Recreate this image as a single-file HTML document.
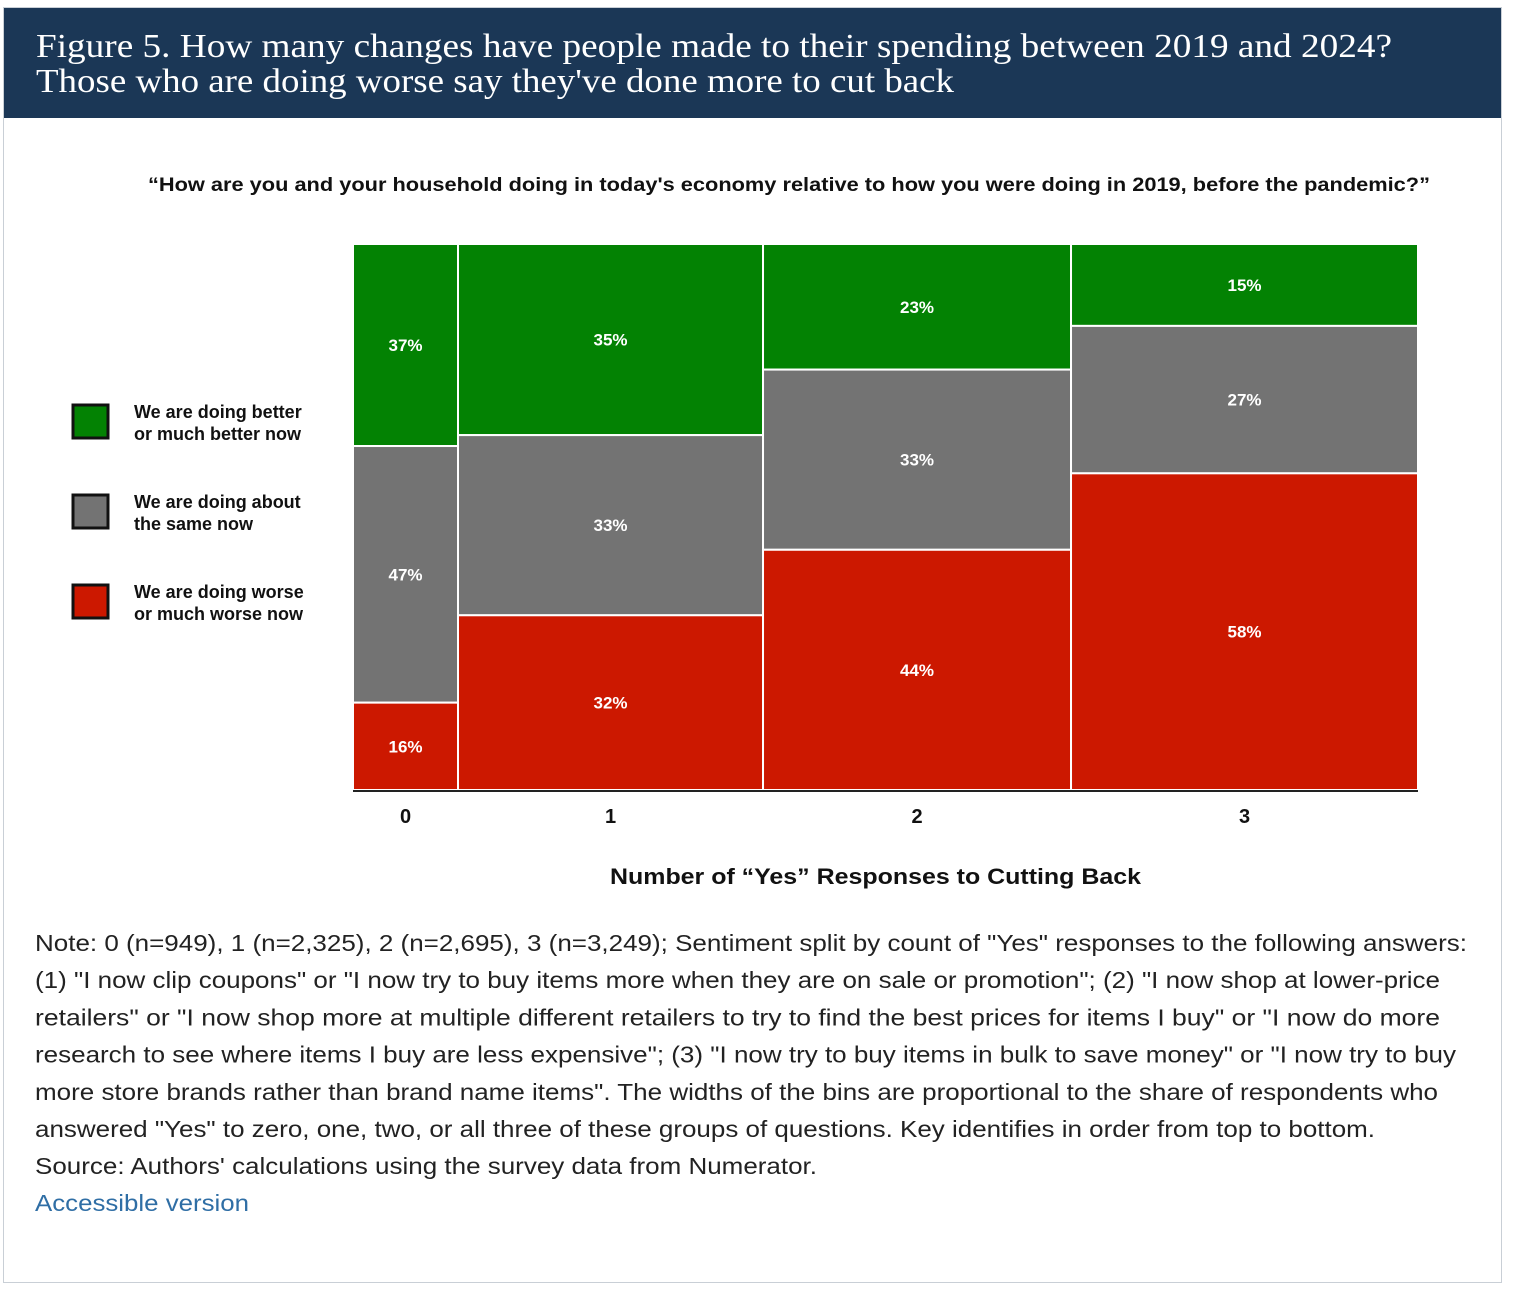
<!DOCTYPE html>
<html><head><meta charset="utf-8"><style>
body{margin:0;width:1514px;height:1294px;background:#fff;position:relative;overflow:hidden;font-family:"Liberation Sans",sans-serif}
#card{position:absolute;left:3px;top:7px;width:1497px;height:1274px;border:1px solid #c9cfd6}
#hdr{position:absolute;left:4px;top:8px;width:1497px;height:110px;background:#1b3756}
</style></head><body>
<div id="card"></div>
<div id="hdr"></div>
<svg id="chart" width="1514" height="1294" style="position:absolute;left:0;top:0"></svg>
<script>
const categories=["0","1","2","3"];
const binShares=[0.0986,0.2864,0.2892,0.3258];
const better=[37,35,23,15];
const same=[47,33,33,27];
const worse=[16,32,44,58];
const colors=["#038203","#737373","#cc1800"];
const NS="http://www.w3.org/2000/svg";
const svg=document.getElementById('chart');
const X0=353,X1=1418,Y0=244,Y1=790;
const xs=s=>X0+s*(X1-X0);
const ys=p=>Y0+p/100*(Y1-Y0);
function mk(t,a){const e=document.createElementNS(NS,t);for(const k in a)e.setAttribute(k,a[k]);svg.appendChild(e);return e;}
function txt(s,a,name,inter){const t=mk('text',a);t.textContent=s;return t;}
txt("Figure 5. How many changes have people made to their spending between 2019 and 2024?",{x:36,y:57,'font-family':'Liberation Serif, serif','font-size':34,fill:'#fff',textLength:1356,lengthAdjust:'spacingAndGlyphs'},'figure-title-line-1');
txt("Those who are doing worse say they've done more to cut back",{x:36,y:92,'font-family':'Liberation Serif, serif','font-size':34,fill:'#fff',textLength:918,lengthAdjust:'spacingAndGlyphs'},'figure-title-line-2');
txt("\u201cHow are you and your household doing in today's economy relative to how you were doing in 2019, before the pandemic?\u201d",{x:148,y:191,'font-size':19,'font-weight':'bold',fill:'#111',textLength:1282,lengthAdjust:'spacingAndGlyphs'},'chart-subtitle');
let cum=0;
const series=[better,same,worse];
const sn=['better','same','worse'];
categories.forEach((c,i)=>{
 const xa=xs(cum),xb=xs(cum+binShares[i]);cum+=binShares[i];
 let acc=0;
 series.forEach((s,j)=>{
  const ya=ys(acc),yb=ys(acc+s[i]);acc+=s[i];
  const r=mk('rect',{x:xa,y:ya,width:xb-xa,height:yb-ya,fill:colors[j],stroke:'#fff','stroke-width':2});
  
  
  txt(s[i]+'%',{x:(xa+xb)/2,y:(ya+yb)/2+6,'text-anchor':'middle','font-size':17,'font-weight':'bold',fill:'#fff'},'value-label-'+sn[j]+'-'+c);
 });
 txt(c,{x:(xa+xb)/2,y:823,'text-anchor':'middle','font-size':20,'font-weight':'bold',fill:'#111'},'x-tick-label-'+c);
});
const ax=mk('line',{x1:X0,y1:Y1+1,x2:X1,y2:Y1+1,stroke:'#222','stroke-width':2});


txt("Number of \u201cYes\u201d Responses to Cutting Back",{x:610,y:884,'font-size':22,'font-weight':'bold',fill:'#111',textLength:531,lengthAdjust:'spacingAndGlyphs'},'x-axis-title');
const legLines=[["We are doing better","or much better now"],["We are doing about","the same now"],["We are doing worse","or much worse now"]];
legLines.forEach((l,j)=>{
 const y=405+j*90;
 const b=mk('rect',{x:73,y:y,width:35,height:33,fill:colors[j],stroke:'#111','stroke-width':3});
 
 
 l.forEach((s,k)=>{
  txt(s,{x:134,y:y+13+k*22,'font-size':18,'font-weight':'bold',fill:'#111'},'legend-label-'+sn[j]);
 });
});
const noteLines=[
 ['Note: 0 (n=949), 1 (n=2,325), 2 (n=2,695), 3 (n=3,249); Sentiment split by count of "Yes" responses to the following answers:',1432],
 ['(1) "I now clip coupons" or "I now try to buy items more when they are on sale or promotion"; (2) "I now shop at lower-price',1405],
 ['retailers" or "I now shop more at multiple different retailers to try to find the best prices for items I buy" or "I now do more',1405],
 ['research to see where items I buy are less expensive"; (3) "I now try to buy items in bulk to save money" or "I now try to buy',1421],
 ['more store brands rather than brand name items". The widths of the bins are proportional to the share of respondents who',1403],
 ['answered "Yes" to zero, one, two, or all three of these groups of questions. Key identifies in order from top to bottom.',1340],
 ["Source: Authors' calculations using the survey data from Numerator.",782]
];
noteLines.forEach((l,k)=>{
 txt(l[0],{x:35,y:951+k*37.2,'font-size':23,fill:'#222',textLength:l[1],lengthAdjust:'spacingAndGlyphs'},'chart-note-line');
});
txt("Accessible version",{x:35,y:1211,'font-size':23,fill:'#2f6ea5',textLength:214,lengthAdjust:'spacingAndGlyphs'},'accessible-version-link','true');
</script>
</body></html>
